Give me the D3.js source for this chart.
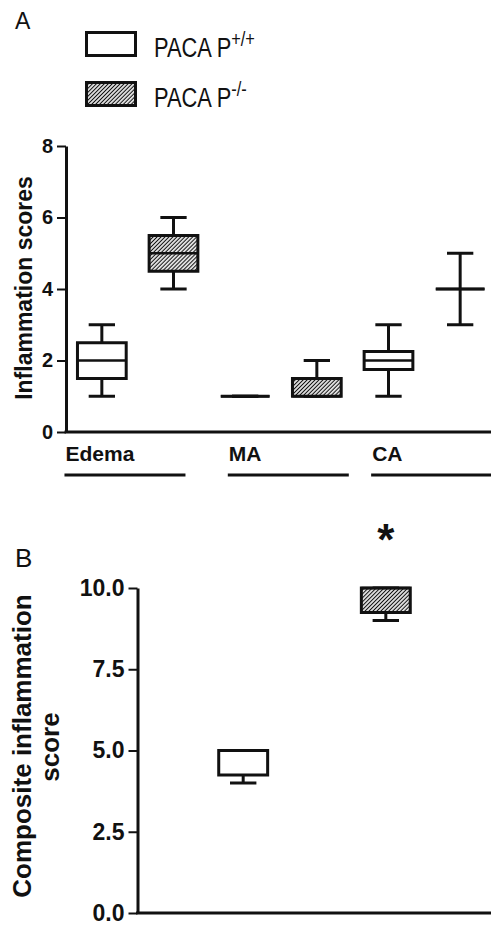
<!DOCTYPE html>
<html>
<head>
<meta charset="utf-8">
<script src="https://cdn.jsdelivr.net/npm/d3@7/dist/d3.min.js"></script>
<style>
  body { margin: 0; background: #fff; }
  svg { display: block; font-family: "Liberation Sans", Arial, sans-serif; }
  .axis text { font-weight: bold; fill: #111; font-family: "Liberation Sans", Arial, sans-serif; }
  .axis line { stroke: #111; stroke-width: 2; }
  .axis path { stroke: #111; stroke-width: 3; }
</style>
</head>
<body>
<svg id="chart" width="491" height="927"></svg>
<script>
// ── Data ──────────────────────────────────────────────────────────────────
const genotypes  = ['PACAP+/+', 'PACAP-/-'];
const groups     = ['Edema', 'MA', 'CA'];

// Panel A: one entry per group × genotype (Edema WT, Edema KO, MA WT, ...)
const aMin    = [1,   4,   1, 1,   1,    3];
const aQ1     = [1.5, 4.5, 1, 1,   1.75, 4];
const aMedian = [2,   5,   1, 1,   2,    4];
const aQ3     = [2.5, 5.5, 1, 1.5, 2.25, 4];
const aMax    = [3,   6,   1, 2,   3,    5];
const aTicks  = [0, 2, 4, 6, 8];

// Panel B: composite score per genotype
const bMin    = [4,    9];
const bQ1     = [4.25, 9.25];
const bMedian = [5,    10];
const bQ3     = [5,    10];
const bMax    = [5,    10];
const bTicks  = [0, 2.5, 5, 7.5, 10];

const INK = '#111';
const svg = d3.select('#chart');

// hatch pattern for knockout boxes
svg.append('defs').append('pattern')
  .attr('id', 'hatch')
  .attr('patternUnits', 'userSpaceOnUse')
  .attr('width', 2.8).attr('height', 2.8)
  .attr('patternTransform', 'rotate(45)')
  .call(p => {
    p.append('rect').attr('width', 2.8).attr('height', 2.8).attr('fill', '#fff');
    p.append('line').attr('x1', 1.4).attr('x2', 1.4).attr('y1', 0).attr('y2', 2.8)
      .attr('stroke', INK).attr('stroke-width', 1.2);
  });

const fillFor = i => i % 2 === 1 ? 'url(#hatch)' : '#fff';

// ── Box drawing helper ────────────────────────────────────────────────────
function drawBoxes(g, rows, x, y) {
  const bw = x.bandwidth();
  const boxes = g.selectAll('.box').data(rows).enter().append('g').attr('class', 'box');

  // whiskers
  boxes.append('line')
    .attr('x1', d => x(d.key) + bw / 2).attr('x2', d => x(d.key) + bw / 2)
    .attr('y1', d => y(d.max)).attr('y2', d => y(d.min))
    .attr('stroke', INK).attr('stroke-width', 3);
  ['min', 'max'].forEach(k => {
    boxes.append('line')
      .attr('x1', d => x(d.key) + bw * 0.23).attr('x2', d => x(d.key) + bw * 0.77)
      .attr('y1', d => y(d[k])).attr('y2', d => y(d[k]))
      .attr('stroke', INK).attr('stroke-width', 3);
  });

  // box (path so a zero-height box still shows as a line)
  boxes.append('path')
    .attr('d', d => {
      const x0 = x(d.key), x1 = x0 + bw, y0 = y(d.q3), y1 = y(d.q1);
      return `M${x0},${y0}H${x1}V${y1}H${x0}Z`;
    })
    .attr('fill', d => d.fill)
    .attr('stroke', INK).attr('stroke-width', 3);

  // median
  boxes.append('line')
    .attr('x1', d => x(d.key)).attr('x2', d => x(d.key) + bw)
    .attr('y1', d => y(d.median)).attr('y2', d => y(d.median))
    .attr('stroke', INK).attr('stroke-width', 2.5);
}

// ── Panel A ───────────────────────────────────────────────────────────────
const keysA = groups.flatMap(g => genotypes.map(t => g + '|' + t));
const rowsA = keysA.map((k, i) => ({
  key: k, min: aMin[i], q1: aQ1[i], median: aMedian[i], q3: aQ3[i], max: aMax[i], fill: fillFor(i)
}));

const xA = d3.scaleBand().domain(keysA).range([66, 496]).paddingInner(0.32).paddingOuter(0.16);
const yA = d3.scaleLinear().domain([0, 8]).range([432, 146]);

const gA = svg.append('g');

gA.append('g')
  .attr('class', 'axis')
  .attr('transform', 'translate(66,0)')
  .call(d3.axisLeft(yA).tickValues(aTicks).tickSize(9).tickSizeOuter(0).tickPadding(4))
  .call(a => a.selectAll('text').style('font-size', '20px'));

gA.append('line')
  .attr('x1', 64.5).attr('x2', 491).attr('y1', yA(0)).attr('y2', yA(0))
  .attr('stroke', INK).attr('stroke-width', 3);

drawBoxes(gA, rowsA, xA, yA);

// group labels with underlines
const labelShift = { Edema: -13, MA: 7, CA: 7 };
groups.forEach(grp => {
  const x0 = xA(grp + '|' + genotypes[0]) + labelShift[grp];
  gA.append('text')
    .attr('x', x0 + 1).attr('y', 461)
    .style('font-size', '21px').style('font-weight', 'bold').attr('fill', INK)
    .text(grp);
  gA.append('line')
    .attr('x1', x0).attr('x2', Math.min(x0 + 121, 491))
    .attr('y1', 475).attr('y2', 475)
    .attr('stroke', INK).attr('stroke-width', 3);
});

gA.append('text')
  .attr('transform', 'translate(32,288) rotate(-90)')
  .attr('text-anchor', 'middle')
  .style('font-size', '23px').style('font-weight', 'bold').attr('fill', INK)
  .text('Inflammation scores');

// panel letter + legend
svg.append('text').attr('x', 15).attr('y', 29)
  .style('font-size', '23px').attr('fill', INK).text('A');

const legend = svg.append('g');
genotypes.forEach((gt, i) => {
  const top = 31 + i * 50;
  legend.append('rect')
    .attr('x', 86.5).attr('y', top + 1.5).attr('width', 49).attr('height', 23)
    .attr('fill', i === 1 ? 'url(#hatch)' : '#fff')
    .attr('stroke', INK).attr('stroke-width', 3);
  const t = legend.append('text')
    .attr('transform', `translate(154,${top + 26}) scale(0.78,1)`)
    .style('font-size', '28px').attr('fill', INK);
  t.append('tspan').text('PACA P');
  t.append('tspan').attr('dy', -11).style('font-size', '21px')
    .text(i === 0 ? '+/+' : '-/-');
});

// ── Panel B ───────────────────────────────────────────────────────────────
const rowsB = genotypes.map((k, i) => ({
  key: k, min: bMin[i], q1: bQ1[i], median: bMedian[i], q3: bQ3[i], max: bMax[i], fill: fillFor(i)
}));

const xB = d3.scaleBand().domain(genotypes).range([137, 492]).paddingInner(0.657).paddingOuter(0.573);
const yB = d3.scaleLinear().domain([0, 10]).range([913, 588]);

const gB = svg.append('g');

gB.append('g')
  .attr('class', 'axis')
  .attr('transform', 'translate(137.5,0)')
  .call(d3.axisLeft(yB).tickValues(bTicks).tickSize(9).tickSizeOuter(0).tickPadding(4)
    .tickFormat(d3.format('.1f')))
  .call(a => a.selectAll('text').style('font-size', '23px'));

gB.append('line')
  .attr('x1', 136).attr('x2', 491).attr('y1', yB(0)).attr('y2', yB(0))
  .attr('stroke', INK).attr('stroke-width', 3);

drawBoxes(gB, rowsB, xB, yB);

gB.append('text')
  .attr('x', xB(genotypes[1]) + xB.bandwidth() / 2).attr('y', 555)
  .attr('text-anchor', 'middle')
  .style('font-size', '44px').style('font-weight', 'bold').attr('fill', INK)
  .text('*');

gB.append('text')
  .attr('transform', 'translate(31,746) rotate(-90)')
  .attr('text-anchor', 'middle')
  .style('font-size', '26px').style('font-weight', 'bold').attr('fill', INK)
  .text('Composite inflammation');
gB.append('text')
  .attr('transform', 'translate(59,747) rotate(-90)')
  .attr('text-anchor', 'middle')
  .style('font-size', '26px').style('font-weight', 'bold').attr('fill', INK)
  .text('score');

svg.append('text').attr('x', 15).attr('y', 567)
  .style('font-size', '26px').attr('fill', INK).text('B');
</script>
</body>
</html>
